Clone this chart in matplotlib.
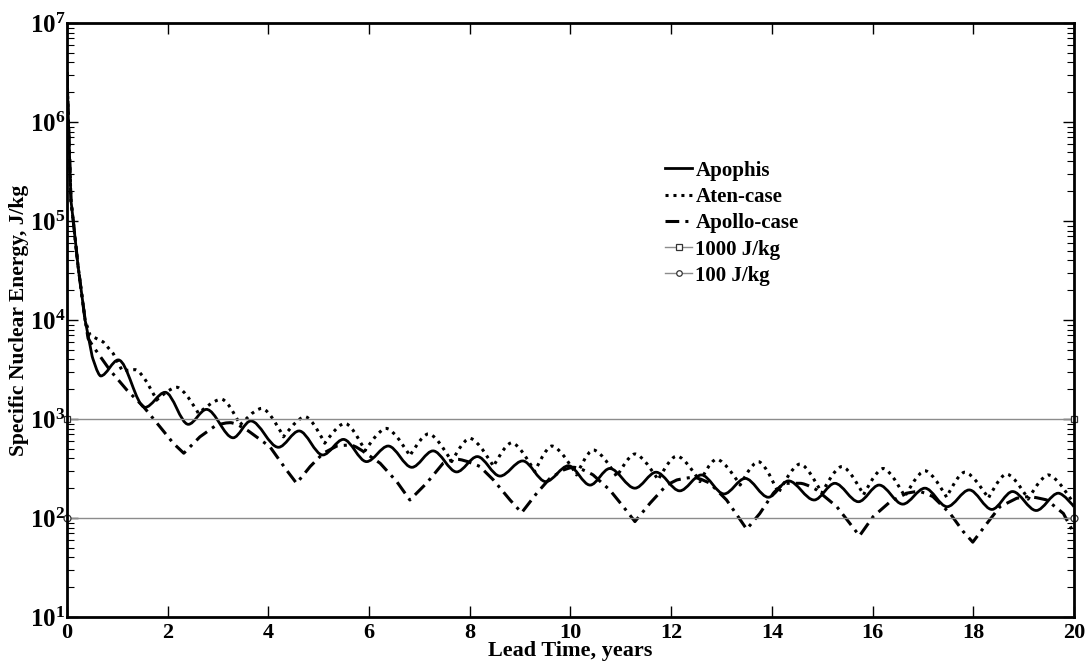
import math
import matplotlib
matplotlib.use("Agg")
import matplotlib.pyplot as plt
from matplotlib.path import Path
from matplotlib.patches import PathPatch
from matplotlib.ticker import FixedLocator, NullFormatter, FuncFormatter

plt.rcParams['font.family'] = ['Liberation Serif', 'DejaVu Serif']
plt.rcParams['font.weight'] = 'bold'
plt.rcParams['mathtext.fontset'] = 'custom'
plt.rcParams['mathtext.rm'] = 'Liberation Serif:bold'
plt.rcParams['mathtext.bf'] = 'Liberation Serif:bold'
plt.rcParams['mathtext.it'] = 'Liberation Serif:bold'

# ---------------- data ----------------
# Apophis: steep initial decline, then peaks / troughs of the oscillation
apophis_t = [0.00, 0.03, 0.08, 0.125, 0.22, 0.36, 0.50,
             0.67, 1.02, 1.55, 1.95, 2.41, 2.77, 3.30, 3.65, 4.20, 4.61, 5.08, 5.49,
             5.95, 6.38, 6.85, 7.27, 7.74, 8.15, 8.60, 9.05, 9.51, 9.96, 10.39, 10.78,
             11.28, 11.70, 12.17, 12.60, 13.05, 13.47, 13.93, 14.33, 14.84, 15.25,
             15.72, 16.13, 16.60, 17.04, 17.48, 17.92, 18.37, 18.78, 19.25, 19.69, 20.00]
apophis_v = [3.2e6, 1.0e6, 1.6e5, 1.0e5, 3.5e4, 1.0e4, 4300,
             2720, 3950, 1310, 1860, 883, 1250, 646, 955, 518, 757, 433, 622,
             371, 533, 325, 476, 292, 417, 265, 377, 233, 337, 215, 316,
             200, 290, 188, 272, 175, 251, 162, 237, 152, 224,
             146, 215, 138, 200, 130, 192, 122, 185, 119, 178, 130]

aten_t = [0.00, 0.03, 0.08, 0.125, 0.22, 0.36, 0.46, 0.72, 0.92,
          1.10, 1.35, 1.78, 2.18, 2.61, 3.07, 3.44, 3.87, 4.30, 4.73, 5.12, 5.52,
          5.92, 6.34, 6.81, 7.18, 7.64, 8.00, 8.47, 8.83, 9.29, 9.63, 10.12, 10.45,
          10.92, 11.28, 11.74, 12.11, 12.57, 12.90, 13.37, 13.73, 14.13, 14.56,
          14.99, 15.39, 15.82, 16.21, 16.64, 17.04, 17.47, 17.83, 18.30, 18.66,
          19.09, 19.49, 20.00]
aten_v = [3.2e6, 1.0e6, 1.6e5, 1.0e5, 3.5e4, 1.0e4, 7000, 6000, 4570,
          3050, 3150, 1550, 2090, 1140, 1585, 870, 1280, 660, 1055, 569, 905,
          478, 803, 423, 708, 371, 638, 331, 575, 294, 533, 272, 487,
          261, 443, 242, 423, 233, 392, 215, 371, 178, 351,
          178, 331, 171, 316, 164, 300, 162, 290, 158, 278,
          155, 272, 138]

apollo_t = [0.00, 0.03, 0.08, 0.125, 0.22, 0.36, 0.42, 0.52, 0.85, 1.19, 1.52, 1.85, 2.11, 2.32,
            2.64, 2.97, 3.24, 3.63, 4.03, 4.36, 4.56, 4.83, 5.09, 5.36, 5.62, 5.89, 6.22, 6.55,
            6.81, 7.14, 7.47, 7.74, 8.20, 8.47, 8.80, 9.03, 9.33, 9.59, 9.86, 10.06, 10.45, 10.78,
            11.05, 11.28, 11.58, 11.91, 12.11, 12.44, 12.77, 13.10, 13.33, 13.50, 13.76, 14.03,
            14.29, 14.56, 14.89, 15.29, 15.55, 15.74, 16.01, 16.35, 16.68, 16.91, 17.20, 17.54,
            17.80, 17.99, 18.27, 18.53, 18.86, 19.09, 19.46, 19.79, 20.00]
apollo_v = [3.2e6, 1.0e6, 1.6e5, 1.0e5, 3.5e4, 1.0e4, 6500, 5400, 3130, 1960, 1330, 830, 570, 451,
            660, 870, 918, 740, 525, 305, 224, 331, 451, 533, 546, 468, 357, 233,
            152, 224, 357, 392, 331, 242, 152, 113, 178, 251, 305, 325, 272, 192,
            130, 92, 141, 215, 242, 257, 224, 152, 103, 77, 111, 178,
            224, 224, 192, 130, 88, 66, 103, 146, 178, 185, 164, 111,
            73, 57, 88, 130, 158, 164, 152, 111, 70]

ref_t = [0, 20]
ref_1000 = [1000, 1000]
ref_100 = [100, 100]

x_ticks = [0, 2, 4, 6, 8, 10, 12, 14, 16, 18, 20]
y_decades = [1, 2, 3, 4, 5, 6, 7]


def curve_path(ts, vs, round_peaks=True, round_troughs=True):
    """Path through the read points; local extrema get horizontal tangents
    (cubic Bezier segments), other points are plain corners."""
    n = len(ts)
    flat = []
    for i in range(n):
        f = False
        if 0 < i < n - 1:
            if round_peaks and vs[i] >= vs[i - 1] and vs[i] >= vs[i + 1]:
                f = True
            if round_troughs and vs[i] <= vs[i - 1] and vs[i] <= vs[i + 1]:
                f = True
        flat.append(f)
    verts = [(ts[0], vs[0])]
    codes = [Path.MOVETO]
    for i in range(n - 1):
        dt = ts[i + 1] - ts[i]
        c1 = (ts[i] + dt / 3, vs[i]) if flat[i] else (ts[i], vs[i])
        c2 = (ts[i + 1] - dt / 3, vs[i + 1]) if flat[i + 1] else (ts[i + 1], vs[i + 1])
        verts += [c1, c2, (ts[i + 1], vs[i + 1])]
        codes += [Path.CURVE4] * 3
    return Path(verts, codes)


# ---------------- figure ----------------
fig = plt.figure(figsize=(10.89, 6.64), dpi=100)
ax = fig.add_axes([0.0615, 0.0708, 0.9247, 0.8946])

apophis_style = dict(color='black', lw=2.0, ls='-')
aten_style = dict(color='black', lw=2.2, ls=(0, (1, 1.6)))
apollo_style = dict(color='black', lw=2.2, ls=(0, (4.5, 2, 1, 2)))

for (tt, vv, st, rp, rt) in [(apophis_t, apophis_v, apophis_style, True, True),
                              (aten_t, aten_v, aten_style, True, False),
                              (apollo_t, apollo_v, apollo_style, True, False)]:
    patch = PathPatch(curve_path(tt, vv, rp, rt), fill=False, edgecolor=st['color'],
                      lw=st['lw'], linestyle=st['ls'], joinstyle='round')
    ax.add_patch(patch)

# legend proxies
ax.plot([], [], label='Apophis', **apophis_style)
ax.plot([], [], label='Aten-case', **aten_style)
ax.plot([], [], label='Apollo-case', **apollo_style)

ax.plot(ref_t, ref_1000, color='#8c8c8c', lw=1.0, marker='s', ms=5, mfc='white',
        mec='#333333', mew=0.9, clip_on=False, label='1000 J/kg')
ax.plot(ref_t, ref_100, color='#8c8c8c', lw=1.0, marker='o', ms=5, mfc='white',
        mec='#333333', mew=0.9, clip_on=False, label='100 J/kg')

ax.set_yscale('log')
ax.set_xlim(0, 20)
ax.set_ylim(10, 1e7)
ax.xaxis.set_major_locator(FixedLocator(x_ticks))
ax.yaxis.set_major_locator(FixedLocator([10.0 ** d for d in y_decades]))
ax.yaxis.set_minor_locator(FixedLocator([m * 10.0 ** d for d in y_decades[:-1] for m in range(2, 10)]))
ax.yaxis.set_minor_formatter(NullFormatter())
ax.yaxis.set_major_formatter(FuncFormatter(lambda v, p: r'$\mathbf{10^{%d}}$' % round(math.log10(v))))

ax.tick_params(which='major', direction='in', length=8, width=1.0, top=True, right=True, pad=3)
ax.tick_params(axis='x', which='major', labelsize=16, pad=4)
ax.tick_params(axis='y', which='major', labelsize=18, pad=1)
ax.tick_params(which='minor', direction='in', length=5, width=0.8, top=True, right=True)
for lab in ax.get_xticklabels():
    lab.set_fontweight('bold')
for s in ax.spines.values():
    s.set_linewidth(2.0)

ax.set_xlabel('Lead Time, years', fontsize=16, fontweight='bold', labelpad=-1)
ax.set_ylabel('Specific Nuclear Energy, J/kg', fontsize=15.5, fontweight='bold', labelpad=1)

leg = ax.legend(loc='upper left', bbox_to_anchor=(0.594, 0.768), frameon=False,
                prop={'family': 'Liberation Serif', 'weight': 'bold', 'size': 15},
                handlelength=1.3, handletextpad=0.15, labelspacing=0.3, borderaxespad=0,
                borderpad=0, numpoints=1, markerscale=0.8)

fig.savefig('out.png', dpi=100)
